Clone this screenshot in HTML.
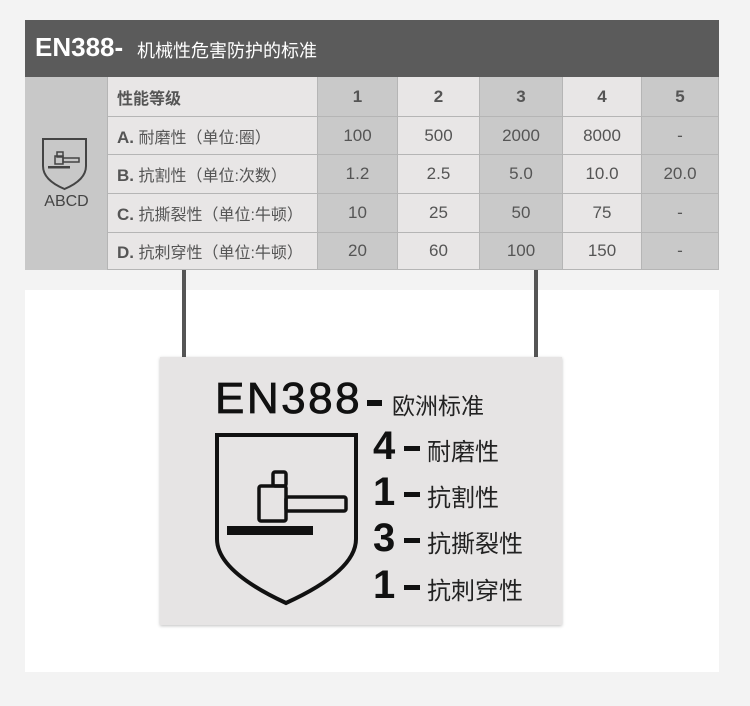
<!DOCTYPE html>
<html><head><meta charset="utf-8"><style>
body{margin:0;width:750px;height:706px;background:#f3f3f3;position:relative;overflow:hidden;font-family:"Liberation Sans","Noto Sans CJK SC",sans-serif}
.a{position:absolute}
.hdr{left:25px;top:20px;width:694px;height:57px;background:#5b5b5b;color:#fff}
.c{position:absolute;display:flex;align-items:center;justify-content:center;color:#555;font-size:17px;box-sizing:border-box;border-bottom:1px solid #b5b5b5;border-right:1px solid #b5b5b5}
.l{justify-content:flex-start;padding-left:9px;font-size:16px}
</style></head><body>
<div class="a hdr"><span class="a" style="left:10px;top:12px;font-size:26px;font-weight:bold">EN388-</span><span class="a" style="left:112px;top:17px;font-size:18px">机械性危害防护的标准</span></div>
<div class="a" style="left:25px;top:77px;width:694px;height:193px;background:#e8e6e6"></div>
<div class="a" style="left:25px;top:77px;width:83px;height:193px;background:#c8c8c8;border-right:1px solid #b5b5b5;box-sizing:border-box"></div>
<svg class="a" style="left:40px;top:136px" width="50" height="56" viewBox="0 0 50 56">
<path d="M3 3H46V30Q46 44 24.5 53Q3 44 3 30Z" fill="none" stroke="#444" stroke-width="2"/>
<rect x="17" y="16" width="6" height="5" fill="none" stroke="#444" stroke-width="1.5"/><rect x="15" y="20" width="8" height="8" fill="none" stroke="#444" stroke-width="1.5"/><rect x="23" y="22" width="16" height="4" fill="none" stroke="#444" stroke-width="1.5"/><rect x="8" y="30" width="22" height="2.5" fill="#444"/></svg>
<div class="a" style="left:25px;top:193px;width:83px;text-align:center;font-size:16px;color:#444">ABCD</div>
<div id="t"></div>
<script>
var cols=[[108,318],[318,398],[398,480],[480,563],[563,642],[642,719]];
var rows=[[77,117],[117,155],[155,194],[194,233],[233,270]];
var d=[["性能等级","1","2","3","4","5"],["A. 耐磨性（单位:圈）","100","500","2000","8000","-"],["B. 抗割性（单位:次数）","1.2","2.5","5.0","10.0","20.0"],["C. 抗撕裂性（单位:牛顿）","10","25","50","75","-"],["D. 抗刺穿性（单位:牛顿）","20","60","100","150","-"]];
var h="";
for(var r=0;r<5;r++)for(var c=0;c<6;c++){var bg=(c==1||c==3||c==5)?"#c9c9c9":"#e8e6e6";var t=d[r][c];
if(c==0){t=t.replace(/^([A-D]\.) /,'<b style="font-size:17px">$1</b> ');if(r==0)t='<b>'+t+'</b>';}
else if(r==0)t='<b>'+t+'</b>';
h+='<div class="c'+(c==0?' l':'')+'" style="left:'+cols[c][0]+'px;top:'+rows[r][0]+'px;width:'+(cols[c][1]-cols[c][0])+'px;height:'+(rows[r][1]-rows[r][0])+'px;background:'+bg+'"><span style="white-space:nowrap">'+t+'</span></div>';}
document.getElementById("t").innerHTML=h;
</script>
<div class="a" style="left:25px;top:290px;width:694px;height:382px;background:#fff"></div>
<div class="a" style="left:182px;top:270px;width:4px;height:88px;background:#555"></div>
<div class="a" style="left:534px;top:270px;width:4px;height:88px;background:#555"></div>
<div class="a" style="left:160px;top:357px;width:402px;height:268px;background:#e6e4e4;box-shadow:0 1px 3px rgba(0,0,0,.25)"></div>
<div class="a" style="left:215px;top:374px;font-size:44px;color:#111;-webkit-text-stroke:0.8px #111;letter-spacing:2.5px">EN388</div>
<div class="a" style="left:367px;top:400px;width:15px;height:6px;background:#111"></div>
<div class="a" style="left:392px;top:387px;font-size:23px;color:#222">欧洲标准</div>
<svg class="a" style="left:213px;top:431px" width="150" height="178" viewBox="0 0 150 178">
<path d="M4 4H143V108Q143 140 73 172Q4 140 4 108Z" fill="none" stroke="#111" stroke-width="4"/>
<rect x="60" y="41" width="13" height="14" rx="2" fill="none" stroke="#111" stroke-width="3.5"/>
<rect x="46" y="55" width="27" height="35" rx="2" fill="none" stroke="#111" stroke-width="3.5"/>
<rect x="73" y="66" width="60" height="14" rx="2" fill="none" stroke="#111" stroke-width="3.5"/>
<rect x="14" y="95" width="86" height="9" fill="#111"/></svg>
<div class="a" style="left:373px;top:424px;font-size:40px;font-weight:bold;color:#111">4</div>
<div class="a" style="left:373px;top:470px;font-size:40px;font-weight:bold;color:#111">1</div>
<div class="a" style="left:373px;top:516px;font-size:40px;font-weight:bold;color:#111">3</div>
<div class="a" style="left:373px;top:563px;font-size:40px;font-weight:bold;color:#111">1</div>
<div class="a" style="left:404px;top:446px;width:16px;height:5px;background:#111"></div>
<div class="a" style="left:404px;top:492px;width:16px;height:5px;background:#111"></div>
<div class="a" style="left:404px;top:538px;width:16px;height:5px;background:#111"></div>
<div class="a" style="left:404px;top:585px;width:16px;height:5px;background:#111"></div>
<div class="a" style="left:427px;top:432px;font-size:24px;color:#222">耐磨性</div>
<div class="a" style="left:427px;top:478px;font-size:24px;color:#222">抗割性</div>
<div class="a" style="left:427px;top:524px;font-size:24px;color:#222">抗撕裂性</div>
<div class="a" style="left:427px;top:571px;font-size:24px;color:#222">抗刺穿性</div>
</body></html>
